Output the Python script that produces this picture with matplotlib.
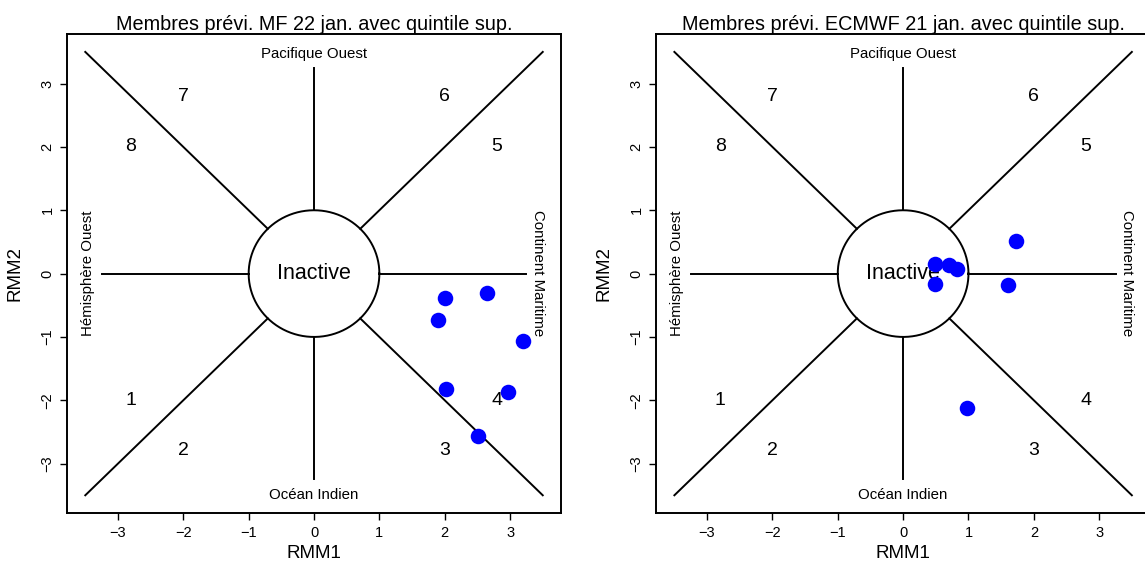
import numpy as np
import matplotlib
matplotlib.use('Agg')
import matplotlib.pyplot as plt

plt.rcParams['font.family'] = ['Liberation Sans', 'DejaVu Sans']
plt.rcParams['axes.unicode_minus'] = True

# membres de prevision (RMM1, RMM2)
mf_rmm1 = [2.00, 2.65, 1.90, 3.20, 2.02, 2.97, 2.51]
mf_rmm2 = [-0.39, -0.30, -0.73, -1.06, -1.82, -1.87, -2.56]
ec_rmm1 = [1.72, 0.49, 0.70, 0.83, 0.49, 1.60, 0.98]
ec_rmm2 = [0.52, 0.15, 0.14, 0.08, -0.16, -0.18, -2.12]

titles = ['Membres prévi. MF 22 jan. avec quintile sup.',
          'Membres prévi. ECMWF 21 jan. avec quintile sup.']
phases = ['1', '2', '3', '4', '5', '6', '7', '8']
phase_x = [-2.8, -2.0, 2.0, 2.8, 2.8, 2.0, -2.0, -2.8]
phase_y = [-2.0, -2.8, -2.8, -2.0, 2.0, 2.8, 2.8, 2.0]
ticks = [-3, -2, -1, 0, 1, 2, 3]


def phase_diagram(ax, x, y, title):
    ax.set_xlim(-3.78, 3.78)
    ax.set_ylim(-3.78, 3.78)
    # cercle inactif
    t = np.linspace(0, 2 * np.pi, 300)
    ax.plot(np.cos(t), np.sin(t), color='black', lw=1.4)
    # diagonales
    c = np.cos(np.pi / 4)
    for sx in (-1, 1):
        for sy in (-1, 1):
            ax.plot([sx * c, sx * 3.5], [sy * c, sy * 3.5], color='black', lw=1.4)
    # axes
    ax.plot([1, 3.25], [0, 0], color='black', lw=1.4)
    ax.plot([-1, -3.25], [0, 0], color='black', lw=1.4)
    ax.plot([0, 0], [1, 3.25], color='black', lw=1.4)
    ax.plot([0, 0], [-1, -3.25], color='black', lw=1.4)
    for p, px, py in zip(phases, phase_x, phase_y):
        ax.text(px, py, p, ha='center', va='center', fontsize=14)
    ax.text(0, 0, 'Inactive', ha='center', va='center', fontsize=15.5)
    ax.text(0, 3.47, 'Pacifique Ouest', ha='center', va='center', fontsize=10.8)
    ax.text(0, -3.49, 'Océan Indien', ha='center', va='center', fontsize=10.8)
    ax.text(-3.46, 0, 'Hémisphère Ouest', ha='center', va='center',
            rotation=90, fontsize=10.8)
    ax.text(3.42, 0, 'Continent Maritime', ha='center', va='center',
            rotation=-90, fontsize=10.8)
    ax.scatter(x, y, s=125, color='blue', zorder=5, linewidths=0)
    ax.set_xticks(ticks)
    ax.set_yticks(ticks)
    ax.set_xticklabels([str(v).replace('-', '\u2212') for v in ticks])
    ax.set_yticklabels([str(v).replace('-', '\u2212') for v in ticks],
                       rotation=90, va='center')
    ax.tick_params(length=5, width=1, labelsize=10.5, pad=4)
    for s in ax.spines.values():
        s.set_linewidth(1.4)
    ax.set_xlabel('RMM1', fontsize=13.5, labelpad=4)
    ax.set_ylabel('RMM2', fontsize=13.5, labelpad=12)
    ax.set_title(title, fontsize=14.3, pad=3)


fig = plt.figure(figsize=(11.45, 5.64), dpi=100)
ax1 = fig.add_axes([0.0585, 0.0904, 0.4315, 0.849])
ax2 = fig.add_axes([0.573, 0.0904, 0.4315, 0.849])
phase_diagram(ax1, mf_rmm1, mf_rmm2, titles[0])
phase_diagram(ax2, ec_rmm1, ec_rmm2, titles[1])

fig.savefig('out.png', dpi=100)
